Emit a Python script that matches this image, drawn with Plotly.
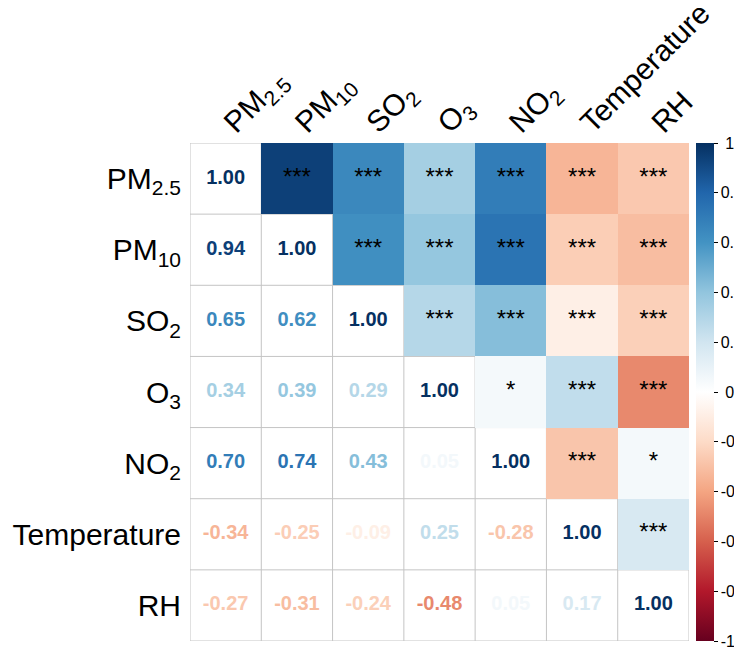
import numpy as np
import plotly.graph_objects as go
from plotly.colors import sample_colorscale

labels = ["PM<sub>2.5</sub>", "PM<sub>10</sub>", "SO<sub>2</sub>", "O<sub>3</sub>",
          "NO<sub>2</sub>", "Temperature", "RH"]

# lower-triangle correlations, row by row (row i holds corr with columns 0..i-1)
corr_rows = [
    [],
    [0.94],
    [0.65, 0.62],
    [0.34, 0.39, 0.29],
    [0.70, 0.74, 0.43, 0.05],
    [-0.34, -0.25, -0.09, 0.25, -0.28],
    [-0.27, -0.31, -0.24, -0.48, 0.05, 0.17],
]

# significance stars for upper triangle, row by row (row i holds columns i+1..n-1)
star_rows = [
    ["***", "***", "***", "***", "***", "***"],
    ["***", "***", "***", "***", "***"],
    ["***", "***", "***", "***"],
    ["*", "***", "***"],
    ["***", "*"],
    ["***"],
    [],
]

cbar_vals = [1, 0.8, 0.6, 0.4, 0.2, 0, -0.2, -0.4, -0.6, -0.8, -1]
cbar_text = ["1", "0.8", "0.6", "0.4", "0.2", "0", "-0.2", "-0.4", "-0.6", "-0.8", "-1"]

rdbu = ["#67001F", "#B2182B", "#D6604D", "#F4A582", "#FDDBC7", "#FFFFFF",
        "#D1E5F0", "#92C5DE", "#4393C3", "#2166AC", "#053061"]
colorscale = [[i / (len(rdbu) - 1), c] for i, c in enumerate(rdbu)]

n = len(labels)
M = np.eye(n)
for i, row in enumerate(corr_rows):
    for j, v in enumerate(row):
        M[i, j] = v
        M[j, i] = v

z_upper = np.full((n, n), np.nan)
for i in range(n):
    for j in range(i + 1, n):
        z_upper[i, j] = M[i, j]

FONT = "Liberation Sans, Arial, sans-serif"
NB = "\u00a0"


def centred(t):
    # pad single-character labels so they sit centred like the reference legend
    return NB + t if len(t) == 1 else t


fig = go.Figure()

# grid lines (below traces)
for k in range(n + 1):
    fig.add_shape(type="line", x0=k - 0.5, x1=k - 0.5, y0=-0.5, y1=n - 0.5,
                  line=dict(color="#c4c4c4", width=1), layer="below")
    fig.add_shape(type="line", y0=k - 0.5, y1=k - 0.5, x0=-0.5, x1=n - 0.5,
                  line=dict(color="#c4c4c4", width=1), layer="below")

fig.add_trace(go.Heatmap(
    z=z_upper, x=list(range(n)), y=list(range(n)),
    zmin=-1, zmax=1, colorscale=colorscale, hoverongaps=False,
    colorbar=dict(
        x=1.014, xanchor="left", xref="paper", y=0.5, yanchor="middle",
        len=1, lenmode="fraction", thickness=18, thicknessmode="pixels",
        xpad=0, ypad=0, outlinewidth=0,
        tickvals=cbar_vals, ticktext=[centred(t) for t in cbar_text],
        ticks="outside", ticklen=4, tickcolor="black", tickwidth=1,
        tickfont=dict(family=FONT, size=16, color="black"),
    ),
))

# numbers: lower triangle + diagonal
nx, ny, nt, nc = [], [], [], []
for i in range(n):
    for j in range(i + 1):
        v = M[i, j]
        nx.append(j)
        ny.append(i)
        nt.append(f"<b>{v:.2f}</b>")
        nc.append(sample_colorscale(colorscale, [(v + 1) / 2])[0])
fig.add_trace(go.Scatter(x=nx, y=ny, text=nt, mode="text",
                         textfont=dict(family=FONT, size=20, color=nc),
                         hoverinfo="skip", showlegend=False))

# stars: upper triangle
sx, sy, st = [], [], []
for i, row in enumerate(star_rows):
    for k, s in enumerate(row):
        sx.append(i + 1 + k)
        sy.append(i)
        st.append(s)
fig.add_trace(go.Scatter(x=sx, y=sy, text=st, mode="text",
                         textfont=dict(family=FONT, size=24, color="black"),
                         hoverinfo="skip", showlegend=False))

fig.update_layout(
    width=734, height=642,
    margin=dict(l=182, r=53, t=135, b=9, autoexpand=False),
    paper_bgcolor="white", plot_bgcolor="white",
    showlegend=False,
    xaxis=dict(range=[-0.5, n - 0.5], side="top", tickvals=list(range(n)),
               ticktext=labels, tickangle=-45, showgrid=False, zeroline=False,
               showline=False, ticks="", ticklabelstandoff=-3, automargin=False,
               tickfont=dict(family=FONT, size=30, color="black")),
    yaxis=dict(range=[n - 0.5, -0.5], tickvals=list(range(n)), ticktext=labels,
               showgrid=False, zeroline=False, showline=False, ticks="",
               ticklabelstandoff=8, automargin=False,
               tickfont=dict(family=FONT, size=30, color="black")),
)

fig.write_html("out.html")
